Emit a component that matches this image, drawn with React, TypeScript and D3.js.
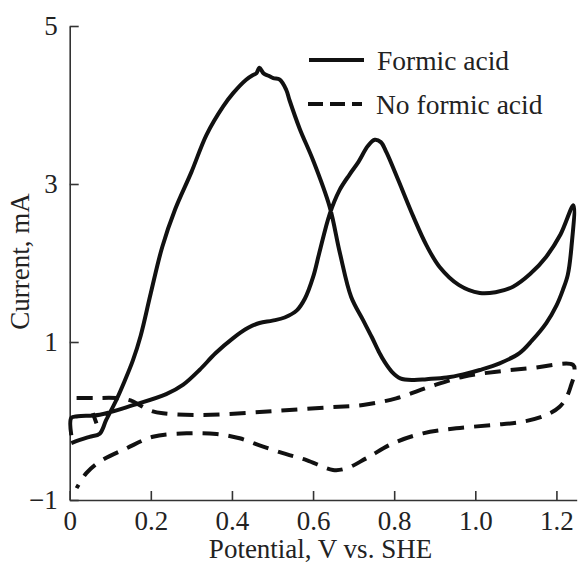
import React, { useEffect, useRef } from "react";
import * as d3 from "d3";

// Cyclic voltammogram: current (mA) vs potential (V vs. SHE)
type Pt = [number, number];

const formicAcid: Pt[] = [
  [0.004, -0.18], [0.004, 0.04], [0.02, 0.06], [0.074, 0.08], [0.156, 0.2],
  [0.238, 0.34], [0.28, 0.46], [0.32, 0.646], [0.36, 0.86], [0.403, 1.05],
  [0.44, 1.18], [0.468, 1.24], [0.5, 1.27], [0.53, 1.31], [0.56, 1.4],
  [0.58, 1.55], [0.6, 1.82], [0.615, 2.12], [0.641, 2.62],
  [0.665, 2.92], [0.69, 3.12], [0.712, 3.28], [0.735, 3.48], [0.752, 3.56],
  [0.767, 3.53], [0.781, 3.4], [0.81, 3.05], [0.847, 2.59], [0.88, 2.22],
  [0.912, 1.95], [0.96, 1.72], [1.011, 1.62], [1.05, 1.63], [1.093, 1.7],
  [1.135, 1.86], [1.175, 2.08], [1.21, 2.36], [1.242, 2.73],
  [1.237, 2.2], [1.228, 1.85], [1.216, 1.66], [1.2, 1.46], [1.175, 1.24],
  [1.14, 1.02], [1.109, 0.86], [1.06, 0.73], [1.011, 0.646], [0.97, 0.59],
  [0.929, 0.55], [0.88, 0.53], [0.847, 0.52], [0.815, 0.54], [0.795, 0.62],
  [0.775, 0.76], [0.764, 0.86], [0.745, 1.06], [0.723, 1.28], [0.694, 1.57],
  [0.666, 2.13], [0.641, 2.71], [0.6, 3.3], [0.567, 3.7], [0.542, 4.06],
  [0.534, 4.19], [0.518, 4.32], [0.502, 4.34], [0.49, 4.37], [0.478, 4.4],
  [0.468, 4.47], [0.46, 4.4], [0.452, 4.38], [0.435, 4.32], [0.403, 4.15],
  [0.378, 3.98], [0.337, 3.62], [0.3, 3.15], [0.26, 2.68], [0.228, 2.2],
  [0.2, 1.62], [0.175, 1.08], [0.156, 0.77], [0.135, 0.5], [0.115, 0.266],
  [0.09, 0.013], [0.074, -0.16], [0.049, -0.2], [0.025, -0.24], [0.004, -0.28],
];

const noFormicAcid: Pt[] = [
  [0.017, 0.29], [0.06, 0.29], [0.115, 0.29], [0.15, 0.26], [0.173, 0.2],
  [0.2, 0.13], [0.23, 0.097], [0.32, 0.076], [0.444, 0.105], [0.542, 0.139],
  [0.641, 0.173], [0.723, 0.203], [0.805, 0.287], [0.888, 0.434], [0.97, 0.561],
  [1.052, 0.624], [1.134, 0.667], [1.241, 0.71],
  [1.244, 0.6], [1.236, 0.45], [1.225, 0.3], [1.208, 0.181], [1.175, 0.076],
  [1.117, -0.009], [1.043, -0.051], [0.953, -0.093], [0.871, -0.156],
  [0.797, -0.283], [0.731, -0.473], [0.682, -0.6], [0.649, -0.62],
  [0.584, -0.494], [0.534, -0.42], [0.477, -0.325], [0.419, -0.219],
  [0.362, -0.165], [0.288, -0.156], [0.205, -0.2], [0.14, -0.346],
  [0.074, -0.515], [0.041, -0.66], [0.017, -0.85],
];

const noFormicAcidTurn: Pt[] = [
  [0.057, 0.1], [0.066, -0.03],
];

const xTicks = [0, 0.2, 0.4, 0.6, 0.8, 1.0, 1.2];
const yTicks = [-1, 1, 3, 5];
const seriesNames = ["Formic acid", "No formic acid"];

const W = 579;
const H = 566;
const FONT = "'Liberation Serif', 'Times New Roman', serif";

export default function App() {
  const xAxisRef = useRef<SVGGElement>(null);
  const yAxisRef = useRef<SVGGElement>(null);

  const x = d3.scaleLinear().domain([0, 1.25]).range([69.7, 576.7]);
  const y = d3.scaleLinear().domain([-1, 5]).range([500, 26]);

  const line = d3
    .line<Pt>()
    .x((d) => x(d[0]))
    .y((d) => y(d[1]))
    .curve(d3.curveCatmullRom.alpha(0.5));

  useEffect(() => {
    const fmtX = (v: number) => (v === 0 ? "0" : v.toFixed(1));
    const xa = d3
      .axisBottom(x)
      .tickValues(xTicks)
      .tickSizeInner(-9)
      .tickSizeOuter(0)
      .tickPadding(11)
      .tickFormat((v) => fmtX(+v));
    const ya = d3
      .axisLeft(y)
      .tickValues(yTicks)
      .tickSizeInner(-9)
      .tickSizeOuter(0)
      .tickPadding(12)
      .tickFormat(d3.format("d"));

    const gx = d3.select(xAxisRef.current!);
    gx.call(xa);
    const gy = d3.select(yAxisRef.current!);
    gy.call(ya);

    [gx, gy].forEach((g) => {
      g.select(".domain").attr("stroke", "#333").attr("stroke-width", 1.6);
      g.selectAll(".tick line").attr("stroke", "#333").attr("stroke-width", 1.6);
      g.selectAll(".tick text")
        .attr("fill", "#222")
        .style("font-family", FONT)
        .style("font-size", "27px");
      g.attr("font-family", null).attr("font-size", null);
    });
  }, []);

  return (
    <svg
      width={W}
      height={H}
      style={{ position: "absolute", left: 0, top: 0, background: "#fff" }}
    >
      <rect width={W} height={H} fill="#fff" />
      <g ref={xAxisRef} transform={`translate(0,${y(-1)})`} />
      <g ref={yAxisRef} transform={`translate(${x(0)},0)`} />

      <path
        d={line(noFormicAcid) ?? ""}
        fill="none"
        stroke="#111"
        strokeWidth={4}
        strokeDasharray="16 10"
        strokeLinejoin="round"
      />
      <path
        d={line(noFormicAcidTurn) ?? ""}
        fill="none"
        stroke="#111"
        strokeWidth={4}
      />
      <path
        d={line(formicAcid) ?? ""}
        fill="none"
        stroke="#111"
        strokeWidth={4}
        strokeLinejoin="round"
      />

      {/* legend */}
      <line x1={309} x2={364} y1={60} y2={60} stroke="#111" strokeWidth={4} />
      <text x={377} y={70} fontFamily={FONT} fontSize={27.5} fill="#222">
        {seriesNames[0]}
      </text>
      <line
        x1={308}
        x2={362}
        y1={104}
        y2={104}
        stroke="#111"
        strokeWidth={4}
        strokeDasharray="15 7"
      />
      <text x={376} y={114} fontFamily={FONT} fontSize={27.5} fill="#222">
        {seriesNames[1]}
      </text>

      {/* axis titles */}
      <text
        x={320.5}
        y={558}
        textAnchor="middle"
        fontFamily={FONT}
        fontSize={27}
        fill="#222"
      >
        Potential, V vs. SHE
      </text>
      <text
        transform="translate(29,261.5) rotate(-90)"
        textAnchor="middle"
        fontFamily={FONT}
        fontSize={27}
        fill="#222"
      >
        Current, mA
      </text>
    </svg>
  );
}
